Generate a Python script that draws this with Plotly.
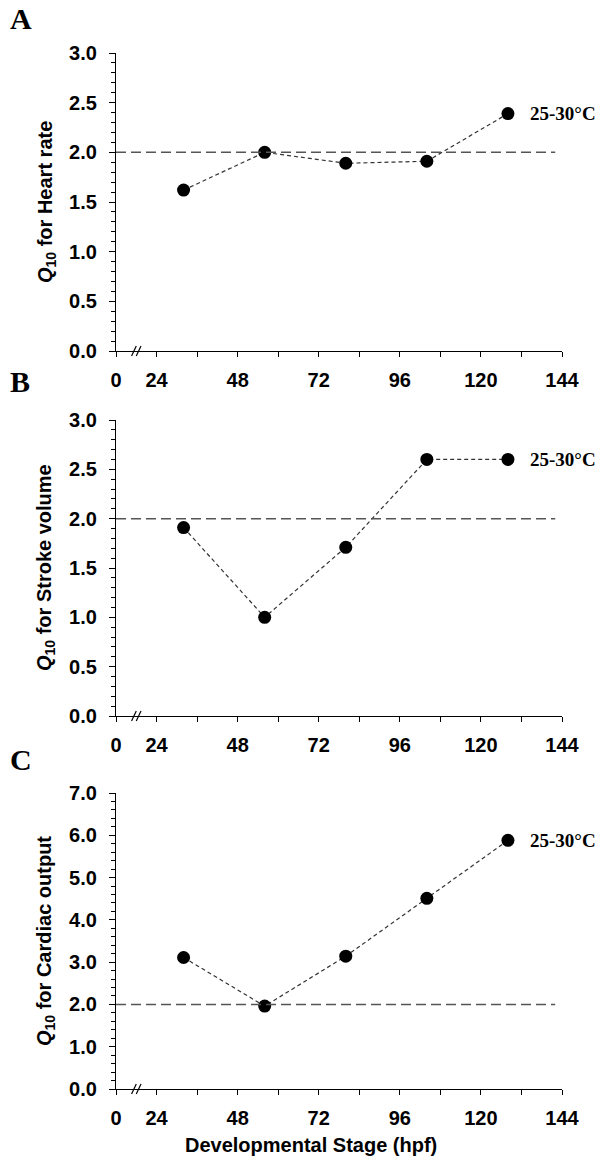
import plotly.graph_objects as go

# ---------------- data ----------------
stage_hpf = [32, 56, 80, 104, 128]
q10_heart_rate = [1.62, 2.00, 1.89, 1.91, 2.39]
q10_stroke_volume = [1.91, 1.00, 1.71, 2.60, 2.60]
q10_cardiac_output = [3.11, 1.96, 3.14, 4.51, 5.88]

x_tick_labels = ["0", "24", "48", "72", "96", "120", "144"]
x_tick_values = [12, 24, 48, 72, 96, 120, 144]   # "0" drawn at 12 (broken axis)
x_minor_values = [36, 60, 84, 108, 132]
panel_letters = ["A", "B", "C"]
y_titles = ["Heart rate", "Stroke volume", "Cardiac output"]
temp_label = "25-30°C"
reference_q10 = 2.0

series = [q10_heart_rate, q10_stroke_volume, q10_cardiac_output]
y_max = [3.0, 3.0, 7.0]
y_major = [0.5, 0.5, 1.0]
y_minor = [0.1, 0.1, 0.2]

# ---------------- layout geometry (pixels in the 604x1165 window) ----------------
PAGE_W, PAGE_H = 604, 1165
BODY_MARGIN = 8                       # default page body margin
W, H = PAGE_W - 2 * BODY_MARGIN, PAGE_H - 2 * BODY_MARGIN
plot_left, plot_right = 116, 562
panels_px = [(53, 351), (420, 716), (793, 1089)]  # (top, bottom)
letter_y_px = [19, 381, 759]

def py(px):
    return 1 - (px - BODY_MARGIN) / H

def pxx(px):
    return (px - BODY_MARGIN) / W

fig = go.Figure()
layout = dict(
    width=W, height=H, autosize=False,
    margin=dict(l=0, r=0, t=0, b=0, pad=0, autoexpand=False),
    paper_bgcolor="white", plot_bgcolor="white",
    showlegend=False,
    font=dict(family="Arial, Liberation Sans, sans-serif", color="black"),
)
annotations = []
shapes = []

for i in range(3):
    n = "" if i == 0 else str(i + 1)
    xa, ya = "x" + n, "y" + n
    top, bottom = panels_px[i]
    fig.add_trace(go.Scatter(
        x=stage_hpf, y=series[i], xaxis=xa, yaxis=ya, mode="lines+markers",
        line=dict(color="#333333", width=1.2, dash="4px,3px"),
        marker=dict(color="black", size=13),
        cliponaxis=False,
    ))
    layout["xaxis" + n] = dict(
        domain=[pxx(plot_left), pxx(plot_right)], anchor=ya,
        range=[12, 144], showgrid=False, zeroline=False, automargin=False,
        showline=True, linecolor="black", linewidth=1.3,
        tickmode="array", tickvals=x_tick_values, ticktext=x_tick_labels,
        ticks="outside", ticklen=5, tickwidth=1.2, tickcolor="black",
        minor=dict(tickmode="array", tickvals=x_minor_values, ticks="outside",
                   ticklen=5, tickwidth=1.2, tickcolor="black"),
        tickfont=dict(size=20, family="Arial, Liberation Sans, sans-serif",
                      color="black", weight="bold"),
        ticklabelstandoff=6,
        fixedrange=True,
    )
    layout["yaxis" + n] = dict(
        domain=[py(bottom), py(top)], anchor=xa,
        range=[0, y_max[i]], showgrid=False, zeroline=False, automargin=False,
        showline=True, linecolor="black", linewidth=1.3,
        tickmode="linear", tick0=0, dtick=y_major[i], tickformat=".1f",
        ticks="outside", ticklen=6, tickwidth=1.2, tickcolor="black",
        minor=dict(tickmode="linear", tick0=0, dtick=y_minor[i], ticks="outside",
                   ticklen=4, tickwidth=1, tickcolor="black"),
        tickfont=dict(size=20, family="Arial, Liberation Sans, sans-serif",
                      color="black", weight="bold"),
        ticklabelstandoff=8,
        fixedrange=True,
    )
    # reference line at Q10 = 2
    shapes.append(dict(type="line", xref=xa, yref=ya, x0=12, x1=142,
                       y0=reference_q10, y1=reference_q10,
                       line=dict(color="#555555", width=1.5, dash="10px,5px")))
    # axis break marks "//"
    h = bottom - top
    for (a, b) in [(16.6, 18.0), (18.0, 19.4)]:
        shapes.append(dict(type="line", xref=xa, yref=ya + " domain",
                           x0=a, x1=b, y0=-5 / h, y1=5 / h,
                           line=dict(color="black", width=1.2)))
    # y-axis title
    annotations.append(dict(
        xref="paper", yref="paper", x=pxx(46), y=py((top + bottom) / 2),
        text="<i>Q</i><sub>10</sub> for " + y_titles[i], textangle=-90,
        showarrow=False, xanchor="center", yanchor="middle",
        font=dict(size=20, family="Arial, Liberation Sans, sans-serif",
                  color="black", weight="bold")))
    # panel letter
    annotations.append(dict(
        xref="paper", yref="paper", x=pxx(8), y=py(letter_y_px[i]),
        text=panel_letters[i], showarrow=False, xanchor="left", yanchor="middle",
        font=dict(size=30, family="Liberation Serif, Times New Roman, serif",
                  color="black", weight="bold")))
    # temperature label next to last point
    annotations.append(dict(
        xref=xa, yref=ya, x=stage_hpf[-1], y=series[i][-1],
        text=temp_label, showarrow=False, xanchor="left", yanchor="middle",
        xshift=20,
        font=dict(size=19, family="Liberation Serif, Times New Roman, serif",
                  color="black", weight="bold")))

# x-axis title
annotations.append(dict(
    xref="paper", yref="paper", x=pxx(311), y=py(1145),
    text="Developmental Stage (hpf)", showarrow=False,
    xanchor="center", yanchor="middle",
    font=dict(size=20, family="Arial, Liberation Sans, sans-serif",
              color="black", weight="bold")))

layout["annotations"] = annotations
layout["shapes"] = shapes
fig.update_layout(**layout)
fig.write_html("out.html")
